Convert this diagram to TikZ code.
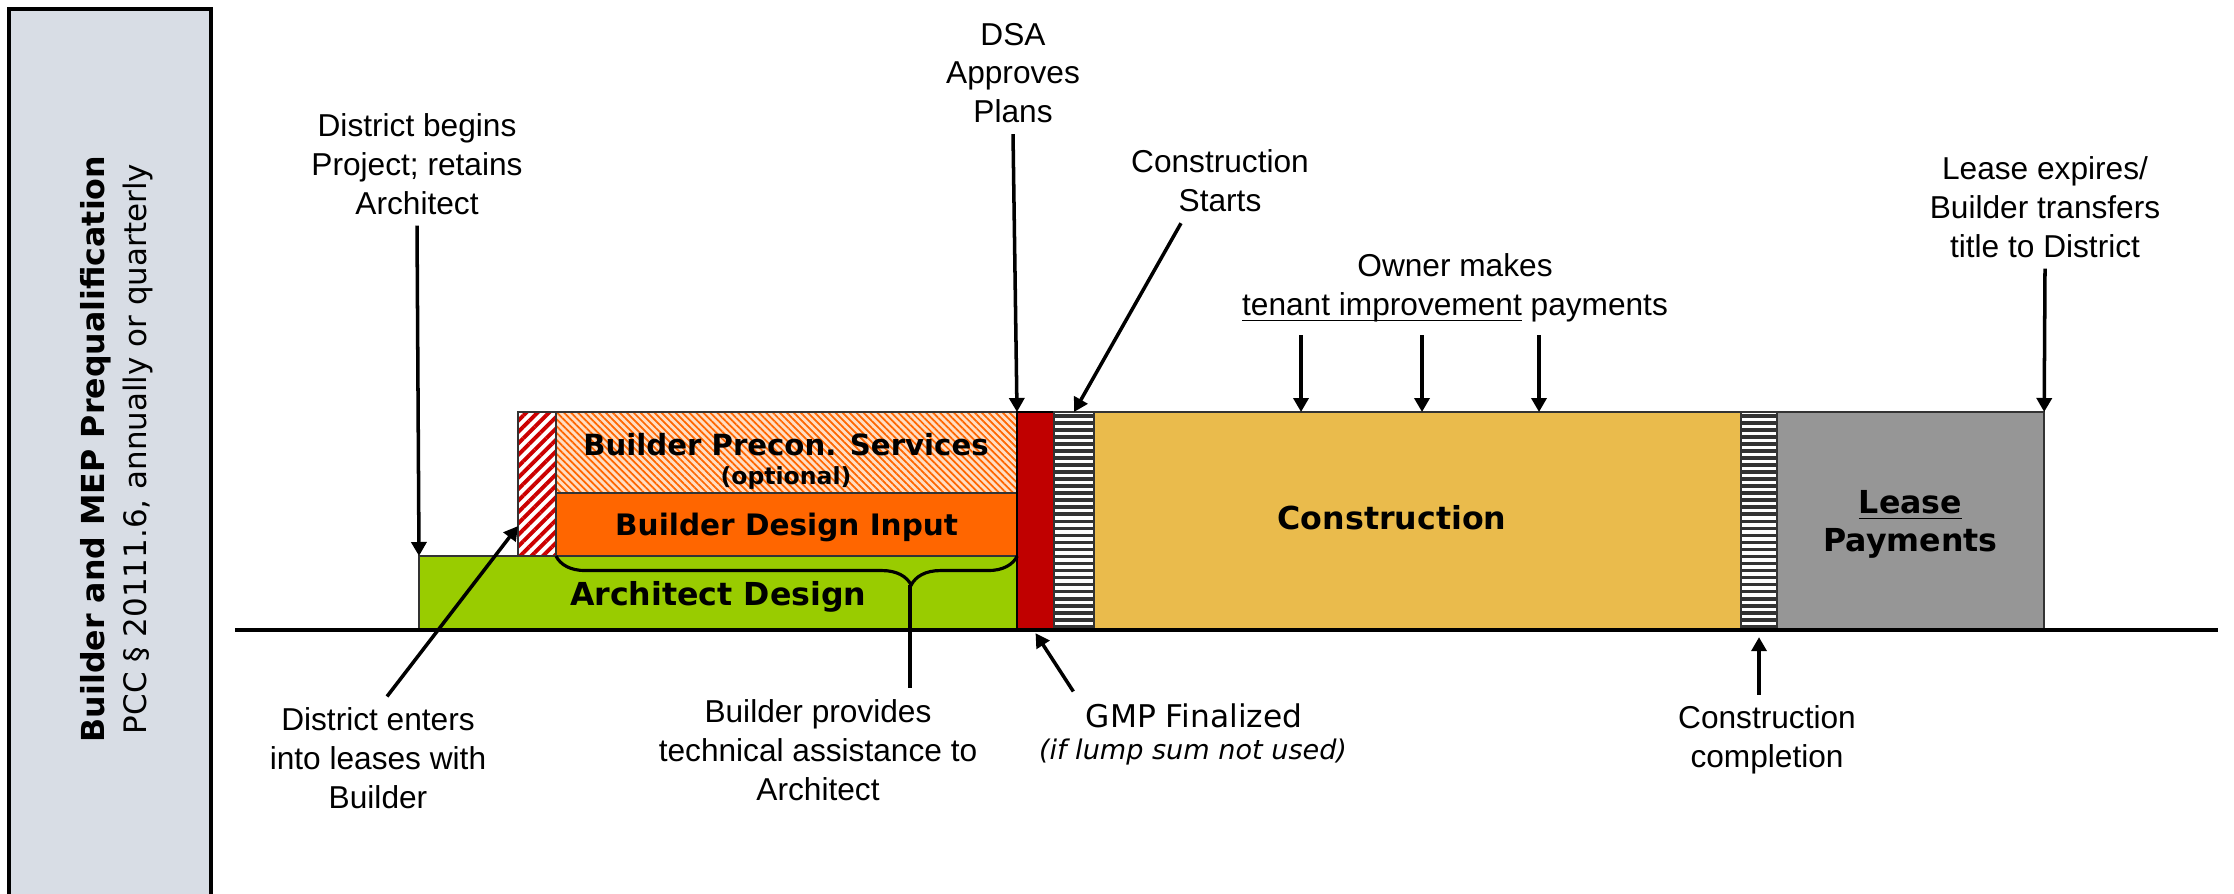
\documentclass[tikz,border=0pt]{standalone}
\usepackage{fontspec}
\setmainfont{Liberation Sans}
\newfontfamily\verdana{DejaVu Sans}
\usepackage{xcolor}
\usepackage{tikz}
\usetikzlibrary{arrows.meta,patterns.meta,decorations.pathreplacing}

\definecolor{prequalfill}{RGB}{216,221,229}
\definecolor{archgreen}{RGB}{153,204,0}
\definecolor{inputorange}{RGB}{255,102,0}
\definecolor{preconpeach}{RGB}{255,222,196}
\definecolor{hatchred}{RGB}{204,0,0}
\definecolor{gmpred}{RGB}{192,0,0}
\definecolor{stripedark}{RGB}{51,51,51}
\definecolor{constryellow}{RGB}{234,187,76}
\definecolor{leasegray}{RGB}{150,150,150}

\newcommand{\ulbase}[1]{\underline{\smash{#1}}}

\begin{document}
\begin{tikzpicture}[x=0.01cm,y=-0.01cm,
  blk/.style={draw=black!80,line width=0.5pt,inner sep=0pt,outer sep=0pt,anchor=north west,align=center,text depth=0pt,font=\verdana\bfseries\fontsize{9}{11}\selectfont},
  stripes/.style={blk,fill=white,path picture={
    \foreach \k in {0,...,30}
      \fill[stripedark] ([yshift=-0.02cm-\k*0.0703cm]path picture bounding box.north west) rectangle ++(0.5cm,-0.036cm);}},
  lbl/.style={align=center,font=\fontsize{9}{11}\selectfont,inner sep=3pt},
  arr/.style={line width=1pt,-{Triangle[length=0.14cm,width=0.15cm]}}]
\useasboundingbox (0,0) rectangle (2234,893);

\node[draw,line width=1pt,fill=prequalfill,anchor=north west,minimum width=2.02cm,minimum height=9.5cm,inner sep=0pt] (prequal) at (7,7) {};
\node[rotate=90,align=center,inner sep=0pt,font=\verdana\fontsize{9}{12}\selectfont] (prequaltxt) at (117,449) {\textbf{Builder and MEP Prequalification}\\\fontsize{8.8}{12}\selectfont PCC § 20111.6, annually or quarterly};

\node[blk,fill=archgreen,minimum width=5.98cm,minimum height=0.74cm] (arch) at (419,556) {Architect Design};
\node[blk,preaction={fill=white},pattern={Lines[angle=45,distance=2.3pt,line width=1.1pt]},pattern color=hatchred,minimum width=0.38cm,minimum height=1.44cm] (redhatch) at (518,412) {};
\node[blk,preaction={fill=preconpeach},pattern={Lines[angle=-45,distance=1.4pt,line width=0.5pt]},pattern color=inputorange,minimum width=4.61cm,minimum height=0.81cm] (precon) at (556,412) {};
\node[align=center,inner sep=0pt,font=\verdana\bfseries\fontsize{8.3}{8.3}\selectfont] (precontxt) at (786,461) {Builder Precon. Services\\{\fontsize{6.7}{8.3}\selectfont (optional)}};
\node[blk,fill=inputorange,minimum width=4.61cm,minimum height=0.63cm,font=\verdana\bfseries\fontsize{8.4}{10}\selectfont] (input) at (556,493) {Builder Design Input};
\node[blk,fill=gmpred,draw=black,line width=0.7pt,minimum width=0.37cm,minimum height=2.18cm] (gmp) at (1017,412) {};
\node[stripes,minimum width=0.40cm,minimum height=2.18cm] (stripeA) at (1054,412) {};
\node[blk,fill=constryellow,minimum width=6.47cm,minimum height=2.18cm] (constr) at (1094,412) {};
\node[font=\verdana\bfseries\fontsize{9}{11}\selectfont] (constrtxt) at (1392,518) {Construction};
\node[stripes,minimum width=0.36cm,minimum height=2.18cm] (stripeB) at (1741,412) {};
\node[blk,fill=leasegray,minimum width=2.67cm,minimum height=2.18cm] (lease) at (1777,412) {\underline{Lease}\\Payments};

\draw[line width=0.9pt] (235,630) -- (2218,630);

\draw[line width=0.9pt,decorate,decoration={brace,amplitude=0.29cm,aspect=0.77,mirror}] (input.south west) -- (input.south east);
\coordinate (bracetip) at (910,585);

\node[lbl] (beginlbl) at (417,164) {District begins\\Project; retains\\Architect};
\node[lbl] (dsalbl) at (1013,73) {DSA\\Approves\\Plans};
\node[lbl] (startlbl) at (1220,181) {Construction\\Starts};
\node[lbl] (ownerlbl) at (1455,288) {Owner makes\\\ulbase{tenant improvement} payments};
\node[lbl] (expirelbl) at (2045,207) {Lease expires/\\Builder transfers\\title to District};
\node[lbl] (enterlbl) at (378,758) {District enters\\into leases with\\Builder};
\node[lbl] (providelbl) at (818,750) {Builder provides\\technical assistance to\\Architect};
\node[lbl] (donelbl) at (1767,740) {Construction\\completion};
\node[font=\verdana\fontsize{8.9}{11}\selectfont] (gmplbl) at (1194,716) {GMP Finalized};
\node[font=\verdana\itshape\fontsize{7.7}{9}\selectfont] (gmpnote) at (1193,752) {(if lump sum not used)};

\draw[line width=1pt] (bracetip) -- (bracetip |- providelbl.north);
\draw[arr] (beginlbl.south) -- (arch.north west);
\draw[arr] (dsalbl.south) -- (gmp.north west);
\draw[arr] ([xshift=-0.39cm]startlbl.south) -- (stripeA.north);
\foreach \px [count=\i] in {1301,1422,1539} {
  \coordinate (paytail\i) at (\px,335);
  \coordinate (paytip\i) at (\px,412);
  \draw[arr] (paytail\i) -- (paytip\i);
}
\draw[arr] (expirelbl.south) -- (lease.north east);
\draw[arr] ([xshift=0.09cm]enterlbl.north) -- ([yshift=0.3cm]redhatch.south west);
\draw[arr] (gmplbl.north west) -- ([yshift=-0.03cm]gmp.south);
\draw[arr] (donelbl.north -| stripeB.south) -- ([yshift=-0.07cm]stripeB.south);
\end{tikzpicture}
\end{document}
